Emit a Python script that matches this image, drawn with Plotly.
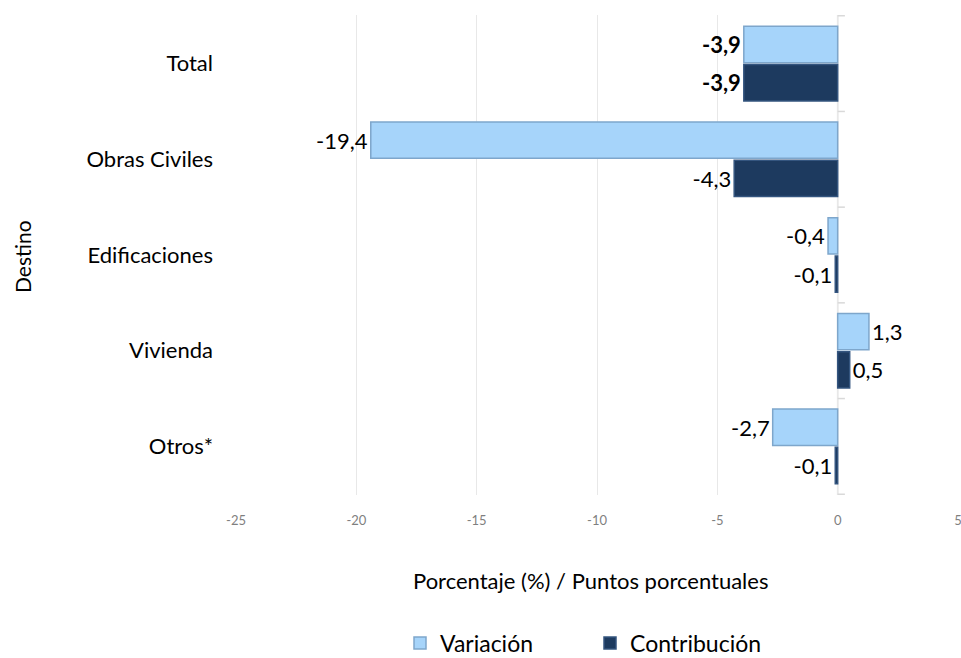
import plotly.graph_objects as go

categorias = ["Total", "Obras Civiles", "Edificaciones", "Vivienda", "Otros*"]
variacion = [-3.9, -19.4, -0.4, 1.3, -2.7]
contribucion = [-3.9, -4.3, -0.1, 0.5, -0.1]
x_ticks = [-25, -20, -15, -10, -5, 0, 5]

def etiqueta(v, bold):
    s = f"{v:.1f}".replace(".", ",")
    return f"<b>{s}</b>" if bold else s

txt_var = [etiqueta(v, c == "Total") for v, c in zip(variacion, categorias)]
txt_con = [etiqueta(v, c == "Total") for v, c in zip(contribucion, categorias)]

FONT = "Lato"
W, H = 961, 658
L, T, R = 236, 15, 3
PB = 495  # plot bottom in px
PH = PB - T
PW = W - L - R

def px_x(p):
    return (p - L) / PW

def px_y(p):
    return (PB - p) / PH

fig = go.Figure()
fig.add_trace(go.Bar(
    y=categorias, x=variacion, orientation="h", name="Variación",
    marker=dict(color="#A6D4FA", line=dict(color="#7EA6CB", width=1.5)),
    text=txt_var, textposition="outside", cliponaxis=False,
    textfont=dict(family=FONT, size=22, color="#000000"),
))
fig.add_trace(go.Bar(
    y=categorias, x=contribucion, orientation="h", name="Contribución",
    marker=dict(color="#1D3A5F", line=dict(color="#34557F", width=1.5)),
    text=txt_con, textposition="outside", cliponaxis=False,
    textfont=dict(family=FONT, size=22, color="#000000"),
))

# zero axis line with small ticks at category boundaries
fig.add_shape(type="line", xref="x", yref="paper", x0=0, x1=0, y0=0, y1=1,
              line=dict(color="#D9D9D9", width=1.5), layer="below")
for i in range(len(categorias) + 1):
    fig.add_shape(type="line", xref="x", yref="y", x0=0, x1=0.3,
                  y0=i - 0.5, y1=i - 0.5, line=dict(color="#D9D9D9", width=1.5))

annots = [
    dict(text="Destino", xref="paper", yref="paper", x=px_x(22), y=px_y(257),
         textangle=-90, showarrow=False, font=dict(family=FONT, size=21),
         xanchor="center", yanchor="middle"),
    dict(text="Porcentaje (%) / Puntos porcentuales", xref="paper", yref="paper",
         x=px_x(590), y=px_y(580), showarrow=False, font=dict(family=FONT, size=22),
         xanchor="center", yanchor="middle"),
]

fig.update_layout(
    width=W, height=H,
    margin=dict(l=L, r=R, t=T, b=H - PB, autoexpand=False),
    paper_bgcolor="white", plot_bgcolor="white",
    barmode="group", bargap=0.2, bargroupgap=0.05,
    font=dict(family=FONT, size=22, color="#000000"),
    xaxis=dict(range=[-25, 5], tickvals=x_ticks, ticktext=[str(t) for t in x_ticks],
               showgrid=True, gridcolor="#E8E8E8", gridwidth=1, zeroline=False,
               showline=False, ticks="", tickfont=dict(family=FONT, size=13, color="#7F7F7F"),
               ticklabelstandoff=16, ticklabeloverflow="allow"),
    yaxis=dict(categoryorder="array", categoryarray=categorias, autorange="reversed",
               showgrid=False, zeroline=False, showline=False, ticks="",
               tickfont=dict(family=FONT, size=22, color="#000000"),
               ticklabelstandoff=22),
    legend=dict(orientation="h", x=px_x(400), xanchor="left", y=px_y(643), yanchor="middle",
                font=dict(family=FONT, size=23), itemwidth=30, traceorder="normal",
                entrywidth=145, entrywidthmode="pixels"),
    annotations=annots,
)

# remove the browser's default 8px body margin so the figure fills the window
fig.write_html("out.html", config={"displayModeBar": False},
               post_script="document.body.style.margin='0';document.body.style.overflow='hidden';")
